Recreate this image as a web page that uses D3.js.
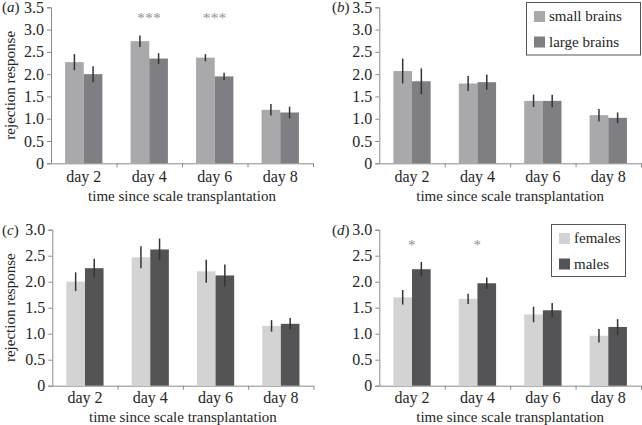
<!DOCTYPE html>
<meta charset="utf-8">
<title>Rejection response</title>
<style>

body {
  margin: 0;
  background: #fff;
}
svg text {
  font-family: "Liberation Serif", "Times New Roman", serif;
}

</style>
<body>
</body>
<script src="https://cdn.jsdelivr.net/npm/d3@7/dist/d3.min.js"></script>
<script>

var days = ["day 2", "day 4", "day 6", "day 8"];

// (a) and (b): brain size groups
var brainGroups = ["small brains", "large brains"];
var aSmall = [2.27, 2.74, 2.37, 1.20];
var aSmallErr = [0.18, 0.13, 0.08, 0.13];
var aLarge = [2.00, 2.35, 1.95, 1.14];
var aLargeErr = [0.18, 0.12, 0.08, 0.13];
var aStars = ["", "***", "***", ""];

var bSmall = [2.07, 1.79, 1.40, 1.08];
var bSmallErr = [0.28, 0.17, 0.14, 0.14];
var bLarge = [1.84, 1.82, 1.40, 1.02];
var bLargeErr = [0.29, 0.17, 0.14, 0.12];

// (c) and (d): sexes
var sexGroups = ["females", "males"];
var cFemale = [2.00, 2.47, 2.20, 1.15];
var cFemaleErr = [0.18, 0.21, 0.22, 0.11];
var cMale = [2.26, 2.62, 2.12, 1.19];
var cMaleErr = [0.18, 0.21, 0.21, 0.11];

var dFemale = [1.70, 1.67, 1.37, 0.96];
var dFemaleErr = [0.14, 0.10, 0.15, 0.13];
var dMale = [2.24, 1.97, 1.45, 1.13];
var dMaleErr = [0.14, 0.11, 0.14, 0.15];
var dStars = ["*", "*", "", ""];

var brainTicks = [0, 0.5, 1, 1.5, 2, 2.5, 3, 3.5];
var sexTicks = [0, 0.5, 1, 1.5, 2, 2.5, 3];

var brainColors = ["#a9a9ab", "#7f7f83"];
var sexColors = ["#d3d3d4", "#545456"];

var textColor = "#262626";
var axisColor = "#8a8a8a";

var svg = d3.select("body").append("svg")
    .attr("width", 642)
    .attr("height", 425)
    .attr("font-family", "Liberation Serif, serif");

function panel(opt) {
  var g = svg.append("g");

  var y = d3.scaleLinear()
      .domain([0, opt.ymax])
      .range([opt.y0, opt.y1]);

  var x = d3.scaleBand()
      .domain(days)
      .range([opt.x0, opt.x1])
      .paddingInner(0.43)
      .paddingOuter(0.215);

  var xs = d3.scaleBand()
      .domain([0, 1])
      .range([0, x.bandwidth()]);

  // boundary ticks between the categories
  var xb = d3.scaleLinear().domain([0, 4]).range([opt.x0, opt.x1]);

  g.append("g")
      .attr("transform", "translate(" + opt.x0 + ",0)")
      .call(d3.axisLeft(y)
        .tickValues(opt.ticks)
        .tickSize(4)
        .tickPadding(3)
        .tickFormat(function(d) { return d === 0 ? "0" : d.toFixed(1); }));

  g.append("g")
      .attr("transform", "translate(0," + opt.y0 + ")")
      .call(d3.axisBottom(xb)
        .tickValues([1, 2, 3, 4])
        .tickSize(4)
        .tickSizeOuter(0)
        .tickFormat(""));

  var xLabels = g.append("g")
      .attr("transform", "translate(0," + opt.y0 + ")")
      .call(d3.axisBottom(x).tickSize(0).tickPadding(opt.labelPad));
  xLabels.select(".domain").remove();

  g.selectAll("g").attr("font-family", null).attr("font-size", null);
  g.selectAll(".domain, .tick line")
      .attr("stroke", axisColor);
  g.selectAll(".tick text")
      .attr("fill", textColor)
      .attr("font-size", 16);

  var series = [
    {vals: opt.v0, errs: opt.e0},
    {vals: opt.v1, errs: opt.e1}
  ];

  series.forEach(function(s, k) {
    g.selectAll(null)
        .data(days)
        .enter().append("rect")
        .attr("x", function(d) { return x(d) + xs(k); })
        .attr("y", function(d, i) { return y(s.vals[i]); })
        .attr("width", xs.bandwidth())
        .attr("height", function(d, i) { return y(0) - y(s.vals[i]); })
        .attr("fill", opt.colors[k]);
  });

  series.forEach(function(s, k) {
    g.selectAll(null)
        .data(days)
        .enter().append("line")
        .attr("x1", function(d) { return x(d) + xs(k) + xs.bandwidth() / 2; })
        .attr("x2", function(d) { return x(d) + xs(k) + xs.bandwidth() / 2; })
        .attr("y1", function(d, i) { return y(s.vals[i] + s.errs[i]); })
        .attr("y2", function(d, i) { return y(s.vals[i] - s.errs[i]); })
        .attr("stroke", "#333")
        .attr("stroke-width", 1.5);
  });

  if(opt.stars) {
    g.selectAll(null)
        .data(days)
        .enter().append("text")
        .attr("x", function(d) { return x(d) + x.bandwidth() / 2; })
        .attr("y", opt.starY)
        .attr("text-anchor", "middle")
        .attr("fill", "#909090")
        .attr("font-size", 15)
        .attr("letter-spacing", 0.5)
        .text(function(d, i) { return opt.stars[i]; });
  }

  // axis title
  g.append("text")
      .attr("x", (opt.x0 + opt.x1) / 2)
      .attr("y", opt.y0 + opt.titlePad)
      .attr("text-anchor", "middle")
      .attr("fill", textColor)
      .attr("font-size", 15)
      .text("time since scale transplantation");

  if(opt.ylabel) {
    g.append("text")
        .attr("transform", "translate(" + opt.ylabelX + "," + ((opt.y0 + opt.y1) / 2) + ") rotate(-90)")
        .attr("text-anchor", "middle")
        .attr("dy", "0.35em")
        .attr("fill", textColor)
        .attr("font-size", 15)
        .text("rejection response");
  }

  // panel letter
  var lab = g.append("text")
      .attr("x", opt.labX)
      .attr("y", opt.y1 + 5)
      .attr("fill", textColor)
      .attr("font-size", 15);
  lab.append("tspan").text("(");
  lab.append("tspan").attr("font-style", "italic").text(opt.letter);
  lab.append("tspan").text(")");

  if(opt.legend) {
    var L = opt.legend;
    var lg = g.append("g");
    lg.append("rect")
        .attr("x", L.x)
        .attr("y", L.y)
        .attr("width", L.w)
        .attr("height", L.h)
        .attr("fill", "#fff")
        .attr("stroke", "#555")
        .attr("stroke-width", 1);
    L.names.forEach(function(n, k) {
      lg.append("rect")
          .attr("x", L.x + 7.5)
          .attr("y", L.y + 8.5 + k * 25.5)
          .attr("width", 11)
          .attr("height", 11)
          .attr("fill", opt.colors[k]);
      lg.append("text")
          .attr("x", L.x + 22.5)
          .attr("y", L.y + 18.5 + k * 25.5)
          .attr("fill", textColor)
          .attr("font-size", 15)
          .text(n);
    });
  }
}

panel({letter: "a", x0: 51, x1: 313, y0: 163.3, y1: 7.3, ymax: 3.5, ticks: brainTicks,
  v0: aSmall, e0: aSmallErr, v1: aLarge, e1: aLargeErr, colors: brainColors,
  stars: aStars, starY: 23, labelPad: 7, titlePad: 38, ylabel: true, ylabelX: 10, labX: 2});

panel({letter: "b", x0: 379.3, x1: 641, y0: 163.3, y1: 7.3, ymax: 3.5, ticks: brainTicks,
  v0: bSmall, e0: bSmallErr, v1: bLarge, e1: bLargeErr, colors: brainColors,
  labelPad: 7, titlePad: 38, labX: 332,
  legend: {x: 526.5, y: 2.5, w: 114, h: 52.5, names: brainGroups}});

panel({letter: "c", x0: 52.3, x1: 313.5, y0: 385.7, y1: 229.7, ymax: 3.0, ticks: sexTicks,
  v0: cFemale, e0: cFemaleErr, v1: cMale, e1: cMaleErr, colors: sexColors,
  labelPad: 6, titlePad: 36, ylabel: true, ylabelX: 10, labX: 2});

panel({letter: "d", x0: 379.3, x1: 641, y0: 385.7, y1: 229.7, ymax: 3.0, ticks: sexTicks,
  v0: dFemale, e0: dFemaleErr, v1: dMale, e1: dMaleErr, colors: sexColors,
  stars: dStars, starY: 249.5, labelPad: 6, titlePad: 36, labX: 332,
  legend: {x: 551.5, y: 224.5, w: 74, h: 52, names: sexGroups}});

</script>
